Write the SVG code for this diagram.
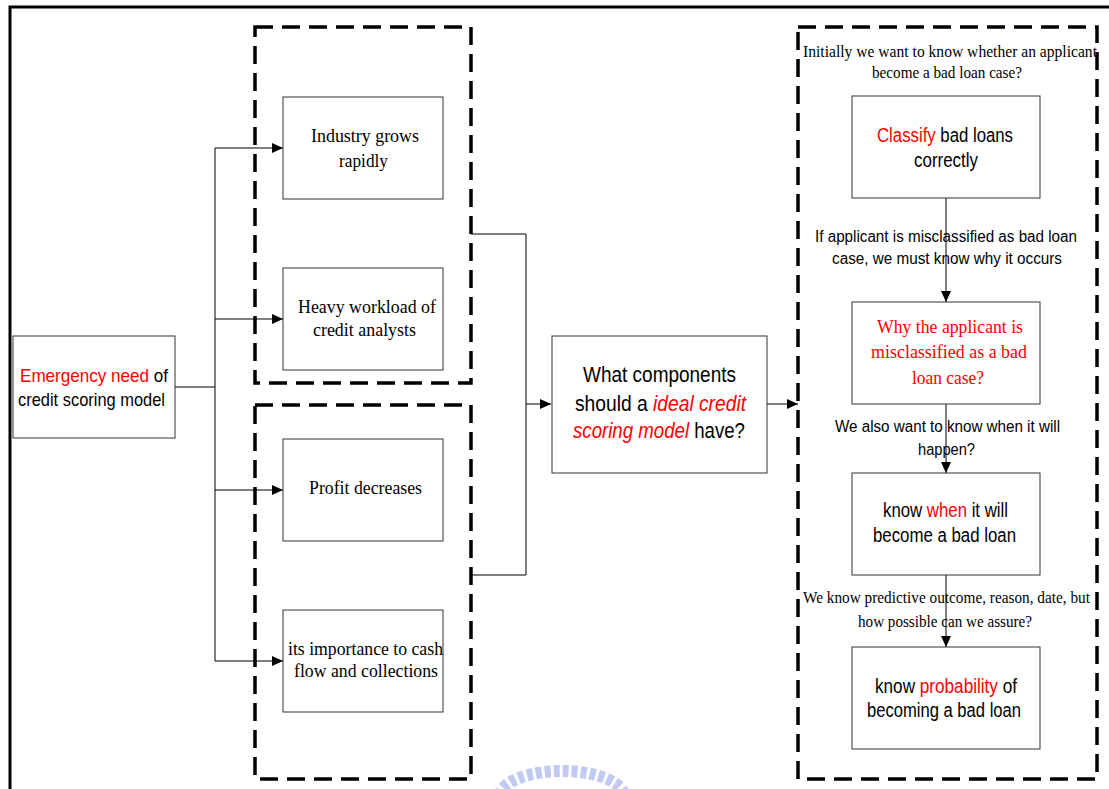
<svg xmlns="http://www.w3.org/2000/svg" width="1109" height="789" viewBox="0 0 1109 789">
<style>
.box{fill:#fff;stroke:#333;stroke-width:1}
.grp{fill:none;stroke:#000;stroke-width:3.5;stroke-dasharray:18 9}
.ln{fill:none;stroke:#000;stroke-width:1}
.s{font-family:"Liberation Sans",Arial,sans-serif;fill:#000}
.r{font-family:"Liberation Serif","Times New Roman",serif;fill:#000}
.red{fill:#ff0000}
.c{text-anchor:middle}
</style>
<defs>
<marker id="ah" markerUnits="userSpaceOnUse" markerWidth="12" markerHeight="10" refX="11" refY="5" orient="auto">
<path d="M0,0 L11,5 L0,10 Z" fill="#000"/>
</marker>
</defs>
<rect x="0" y="0" width="1109" height="789" fill="#fff"/>
<rect id="frame" x="10" y="7" width="1120" height="800" fill="none" stroke="#000" stroke-width="3"/>
<g id="watermark" opacity="0.55">
<path d="M500 796 A62 25 0 0 1 624 796" fill="none" stroke="#8f9ee6" stroke-width="12" stroke-dasharray="6 3"/>
</g>
<g id="group-top"><rect class="grp" x="255" y="27" width="216" height="356"/></g>
<g id="group-bottom"><rect class="grp" x="255" y="405" width="216" height="374"/></g>
<g id="group-right"><rect class="grp" x="798" y="27" width="299" height="752"/></g>
<g id="connectors">
<path class="ln" d="M175 387 H215 M215 148 V661"/>
<path class="ln" d="M215 148 H283" marker-end="url(#ah)"/>
<path class="ln" d="M215 319 H283" marker-end="url(#ah)"/>
<path class="ln" d="M215 490 H283" marker-end="url(#ah)"/>
<path class="ln" d="M215 661 H283" marker-end="url(#ah)"/>
<path class="ln" d="M471 234 H526 V575 H471"/>
<path class="ln" d="M526 404 H551" marker-end="url(#ah)"/>
<path class="ln" d="M767 404 H798" marker-end="url(#ah)"/>
<path class="ln" d="M946 198 V302" marker-end="url(#ah)"/>
<path class="ln" d="M946 404 V473" marker-end="url(#ah)"/>
<path class="ln" d="M946 575 V647" marker-end="url(#ah)"/>
</g>
<g id="emergency">
<rect class="box" x="13" y="336" width="162" height="102"/>
<text class="s" font-size="19" x="20" y="382" textLength="148" lengthAdjust="spacingAndGlyphs"><tspan class="red">Emergency need</tspan> of</text>
<text class="s" font-size="19" x="18" y="406" textLength="147" lengthAdjust="spacingAndGlyphs">credit scoring model</text>
</g>
<g id="industry">
<rect class="box" x="283" y="97" width="160" height="102"/>
<text class="r" font-size="19" x="311" y="142" textLength="108" lengthAdjust="spacingAndGlyphs">Industry grows</text>
<text class="r" font-size="19" x="339" y="167" textLength="49" lengthAdjust="spacingAndGlyphs">rapidly</text>
</g>
<g id="workload">
<rect class="box" x="283" y="268" width="160" height="102"/>
<text class="r" font-size="19" x="298" y="313" textLength="138" lengthAdjust="spacingAndGlyphs">Heavy workload of</text>
<text class="r" font-size="19" x="313" y="336" textLength="103" lengthAdjust="spacingAndGlyphs">credit analysts</text>
</g>
<g id="profit">
<rect class="box" x="283" y="439" width="160" height="102"/>
<text class="r" font-size="19" x="309" y="494" textLength="113" lengthAdjust="spacingAndGlyphs">Profit decreases</text>
</g>
<g id="importance">
<rect class="box" x="283" y="610" width="160" height="102"/>
<text class="r" font-size="19" x="288" y="655" textLength="155" lengthAdjust="spacingAndGlyphs">its importance to cash</text>
<text class="r" font-size="19" x="294" y="677" textLength="144" lengthAdjust="spacingAndGlyphs">flow and collections</text>
</g>
<g id="components">
<rect class="box" x="552" y="336" width="215" height="137"/>
<text class="s" font-size="22" x="583" y="382" textLength="153" lengthAdjust="spacingAndGlyphs">What components</text>
<text class="s" font-size="22" x="575" y="411" textLength="171" lengthAdjust="spacingAndGlyphs">should a <tspan class="red" font-style="italic">ideal credit</tspan></text>
<text class="s" font-size="22" x="573" y="438" textLength="172" lengthAdjust="spacingAndGlyphs"><tspan class="red" font-style="italic">scoring model</tspan> have?</text>
</g>
<g id="label-initially">
<text class="r" font-size="17" x="803" y="57" textLength="294" lengthAdjust="spacingAndGlyphs">Initially we want to know whether an applicant</text>
<text class="r" font-size="17" x="872" y="78" textLength="150" lengthAdjust="spacingAndGlyphs">become a bad loan case?</text>
</g>
<g id="classify">
<rect class="box" x="852" y="96" width="188" height="102"/>
<text class="s" font-size="20" x="877" y="142" textLength="136" lengthAdjust="spacingAndGlyphs"><tspan class="red">Classify</tspan> bad loans</text>
<text class="s" font-size="20" x="914" y="167" textLength="64" lengthAdjust="spacingAndGlyphs">correctly</text>
</g>
<g id="label-misclassified">
<text class="s" font-size="16" x="815" y="242" textLength="262" lengthAdjust="spacingAndGlyphs">If applicant is misclassified as bad loan</text>
<text class="s" font-size="16" x="832" y="264" textLength="230" lengthAdjust="spacingAndGlyphs">case, we must know why it occurs</text>
</g>
<g id="why">
<rect class="box" x="852" y="302" width="188" height="102"/>
<text class="r red" font-size="19" x="877" y="333" textLength="146" lengthAdjust="spacingAndGlyphs">Why the applicant is</text>
<text class="r red" font-size="19" x="871" y="358" textLength="156" lengthAdjust="spacingAndGlyphs">misclassified as a bad</text>
<text class="r red" font-size="19" x="912" y="384" textLength="72" lengthAdjust="spacingAndGlyphs">loan case?</text>
</g>
<g id="label-when">
<text class="s" font-size="16" x="835" y="432" textLength="225" lengthAdjust="spacingAndGlyphs">We also want to know when it will</text>
<text class="s" font-size="16" x="918" y="455" textLength="57" lengthAdjust="spacingAndGlyphs">happen?</text>
</g>
<g id="when">
<rect class="box" x="852" y="473" width="188" height="102"/>
<text class="s" font-size="20" x="883" y="517" textLength="125" lengthAdjust="spacingAndGlyphs">know <tspan class="red">when</tspan> it will</text>
<text class="s" font-size="20" x="873" y="542" textLength="143" lengthAdjust="spacingAndGlyphs">become a bad loan</text>
</g>
<g id="label-assure">
<text class="r" font-size="17" x="803" y="603" textLength="287" lengthAdjust="spacingAndGlyphs">We know predictive outcome, reason, date, but</text>
<text class="r" font-size="17" x="858" y="627" textLength="174" lengthAdjust="spacingAndGlyphs">how possible can we assure?</text>
</g>
<g id="probability">
<rect class="box" x="852" y="647" width="188" height="102"/>
<text class="s" font-size="20" x="875" y="693" textLength="142" lengthAdjust="spacingAndGlyphs">know <tspan class="red">probability</tspan> of</text>
<text class="s" font-size="20" x="867" y="717" textLength="154" lengthAdjust="spacingAndGlyphs">becoming a bad loan</text>
</g>
</svg>
